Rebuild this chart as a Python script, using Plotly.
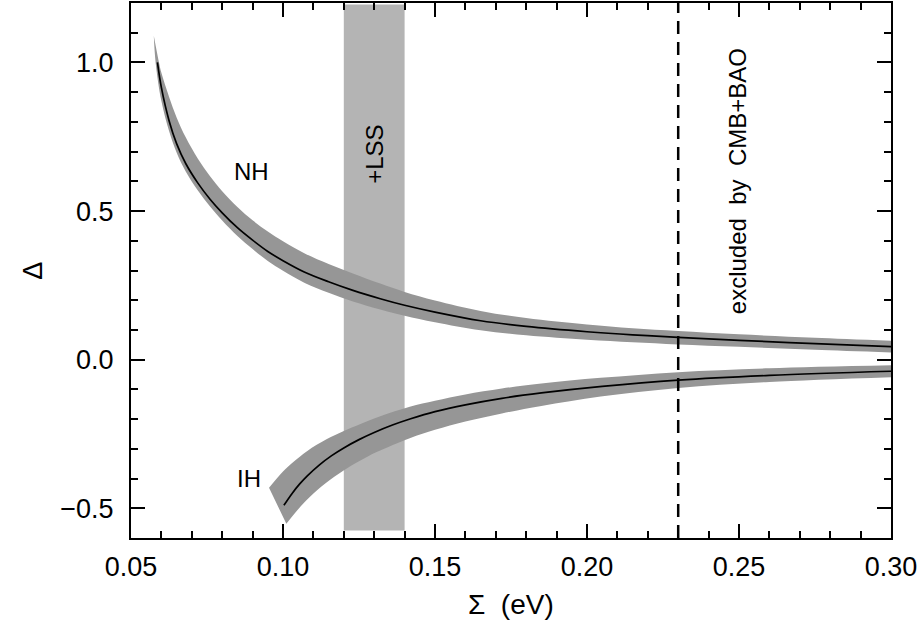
import plotly.graph_objects as go

# ---------------- data ----------------
# Normal hierarchy: central curve
nh_sigma = [0.0587, 0.060, 0.0625, 0.065, 0.068, 0.072, 0.076, 0.080, 0.085, 0.090, 0.095,
            0.100, 0.107, 0.115, 0.123, 0.132, 0.140, 0.150, 0.165, 0.180, 0.200, 0.215,
            0.230, 0.250, 0.275, 0.300]
nh_delta = [1.000, 0.915, 0.805, 0.727, 0.660, 0.594, 0.540, 0.494, 0.444, 0.402, 0.364,
            0.333, 0.295, 0.262, 0.233, 0.205, 0.183, 0.160, 0.131, 0.112, 0.094, 0.0835,
            0.0752, 0.0652, 0.054, 0.044]
# NH band: upper (right) edge and lower (left) edge
nh_up_sigma = [0.0575, 0.0592, 0.060, 0.0625, 0.065, 0.068, 0.072, 0.076, 0.080, 0.085, 0.090,
               0.095, 0.100, 0.107, 0.115, 0.123, 0.132, 0.140, 0.150, 0.165, 0.180, 0.200,
               0.215, 0.230, 0.250, 0.275, 0.300]
nh_up_delta = [1.09, 1.00, 0.965, 0.885, 0.815, 0.748, 0.676, 0.617, 0.567, 0.514, 0.469,
               0.431, 0.398, 0.358, 0.322, 0.290, 0.256, 0.228, 0.199, 0.164, 0.140, 0.118,
               0.1055, 0.0962, 0.0852, 0.074, 0.064]
nh_lo_sigma = [0.0575, 0.0581, 0.060, 0.0625, 0.065, 0.068, 0.072, 0.076, 0.080, 0.085, 0.090,
               0.095, 0.100, 0.107, 0.115, 0.123, 0.132, 0.140, 0.150, 0.165, 0.180, 0.200,
               0.215, 0.230, 0.250, 0.275, 0.300]
nh_lo_delta = [1.09, 1.00, 0.870, 0.770, 0.697, 0.633, 0.569, 0.515, 0.468, 0.416, 0.372,
               0.332, 0.299, 0.259, 0.225, 0.196, 0.169, 0.148, 0.126, 0.099, 0.082, 0.067,
               0.0585, 0.0512, 0.0432, 0.033, 0.024]

# Inverted hierarchy: central curve
ih_sigma = [0.1003, 0.103, 0.1055, 0.108, 0.112, 0.116, 0.120, 0.125, 0.130, 0.136, 0.142,
            0.150, 0.160, 0.172, 0.185, 0.205, 0.230, 0.260, 0.300]
ih_delta = [-0.490, -0.450, -0.418, -0.391, -0.354, -0.323, -0.297, -0.269, -0.245, -0.220, -0.199,
            -0.175, -0.152, -0.130, -0.112, -0.090, -0.069, -0.053, -0.039]
# IH band edges
ih_up_sigma = [0.0954, 0.100, 0.1033, 0.108, 0.1143, 0.120, 0.1253, 0.132, 0.1417, 0.150, 0.160,
               0.172, 0.185, 0.2045, 0.230, 0.260, 0.300]
ih_up_delta = [-0.431, -0.376, -0.345, -0.307, -0.268, -0.240, -0.217, -0.190, -0.158, -0.138, -0.117,
               -0.097, -0.080, -0.061, -0.042, -0.029, -0.019]
ih_lo_sigma = [0.1011, 0.105, 0.1088, 0.114, 0.1198, 0.125, 0.1308, 0.1417, 0.150, 0.160, 0.172,
               0.185, 0.2045, 0.230, 0.260, 0.300]
ih_lo_delta = [-0.552, -0.503, -0.462, -0.416, -0.374, -0.342, -0.311, -0.264, -0.236, -0.208, -0.181,
               -0.156, -0.124, -0.095, -0.075, -0.059]

# +LSS region and CMB+BAO limit
lss_sigma = [0.12, 0.14]
lss_delta = [-0.575, 1.195]
cmb_bao_limit = 0.23

x_range = [0.05, 0.30]
y_range = [-0.6, 1.2]

BAND = "rgb(150,150,150)"
LSS = "rgb(180,180,180)"
FONT = "Liberation Sans, Arial, sans-serif"

fig = go.Figure()

fig.add_trace(go.Scatter(
    x=[lss_sigma[0], lss_sigma[1], lss_sigma[1], lss_sigma[0], lss_sigma[0]],
    y=[lss_delta[0], lss_delta[0], lss_delta[1], lss_delta[1], lss_delta[0]],
    fill="toself", fillcolor=LSS, mode="lines", line=dict(width=0), hoverinfo="skip"))


def add_band(xs_lo, ys_lo, xs_up, ys_up):
    fig.add_trace(go.Scatter(x=xs_lo, y=ys_lo, mode="lines", hoverinfo="skip",
                             line=dict(width=0, shape="spline", smoothing=1.0, color=BAND)))
    fig.add_trace(go.Scatter(x=xs_up, y=ys_up, mode="lines", hoverinfo="skip",
                             fill="tonexty", fillcolor=BAND,
                             line=dict(width=0, shape="spline", smoothing=1.0, color=BAND)))


add_band(nh_lo_sigma, nh_lo_delta, nh_up_sigma, nh_up_delta)
add_band(ih_lo_sigma, ih_lo_delta, ih_up_sigma, ih_up_delta)

fig.add_trace(go.Scatter(x=nh_sigma, y=nh_delta, mode="lines", hoverinfo="skip",
                         line=dict(color="black", width=1.7, shape="spline", smoothing=1.0)))
fig.add_trace(go.Scatter(x=ih_sigma, y=ih_delta, mode="lines", hoverinfo="skip",
                         line=dict(color="black", width=1.7, shape="spline", smoothing=1.0)))

fig.add_shape(type="line", xref="x", yref="y", x0=cmb_bao_limit, x1=cmb_bao_limit,
              y0=y_range[0], y1=y_range[1], line=dict(color="black", width=2.5, dash="13px,8px"),
              layer="above")

ann_font = dict(family=FONT, size=24, color="black")
fig.add_annotation(x=0.0898, y=0.633, text="NH", showarrow=False, font=ann_font)
fig.add_annotation(x=0.0888, y=-0.40, text="IH", showarrow=False, font=ann_font)
fig.add_annotation(x=0.1300, y=0.69, text="+LSS", showarrow=False, font=ann_font, textangle=-90)
fig.add_annotation(x=0.2493, y=0.60, text="excluded&nbsp;&nbsp;by&nbsp;&nbsp;CMB+BAO",
                   showarrow=False, font=ann_font, textangle=-90)

# axis titles
fig.add_annotation(xref="paper", yref="paper", x=0.5, y=-0.125, yanchor="middle",
                   text="Σ  (eV)", showarrow=False, font=dict(family=FONT, size=28, color="black"))
fig.add_annotation(xref="paper", yref="paper", x=-0.13, y=0.5, xanchor="center",
                   text="Δ", showarrow=False, textangle=-90,
                   font=dict(family=FONT, size=27, color="black"))

axis_common = dict(showline=True, linewidth=2, linecolor="black", mirror="ticks",
                   ticks="inside", ticklen=14, tickwidth=1.5, tickcolor="black",
                   showgrid=False, zeroline=False,
                   tickfont=dict(family=FONT, size=27, color="black"))

fig.update_xaxes(range=x_range, tick0=0.05, dtick=0.05, tickformat=".2f",
                 ticklabelstandoff=4,
                 minor=dict(ticks="inside", dtick=0.01, tick0=0.05, ticklen=7,
                            tickwidth=1.5, tickcolor="black", showgrid=False),
                 **axis_common)
fig.update_yaxes(range=y_range, tick0=0, dtick=0.5, tickformat=".1f",
                 ticklabelstandoff=10,
                 minor=dict(ticks="inside", dtick=0.1, tick0=0, ticklen=7,
                            tickwidth=1.5, tickcolor="black", showgrid=False),
                 **axis_common)

fig.update_layout(width=923, height=627, showlegend=False,
                  plot_bgcolor="white", paper_bgcolor="white",
                  margin=dict(l=131, r=32, t=1, b=89))

fig.write_html("out.html")
